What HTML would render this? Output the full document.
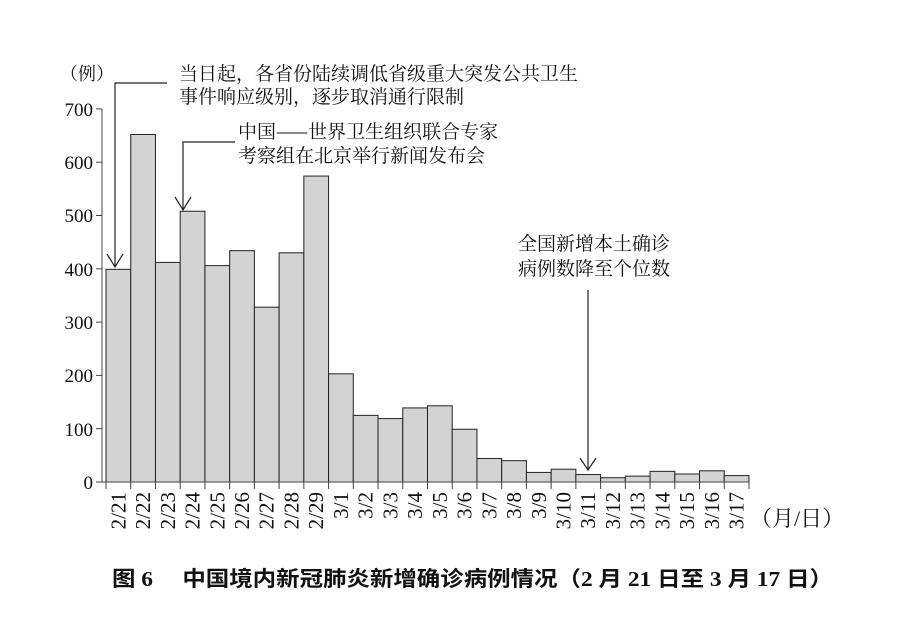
<!DOCTYPE html>
<html><head><meta charset="utf-8"><style>body{margin:0;background:#fff}svg{display:block}</style></head><body>
<svg width="900" height="631" xmlns="http://www.w3.org/2000/svg" font-family="'Liberation Serif','Noto Serif CJK SC',serif">
<g id="bars" fill="#d3d3d3" stroke="#222" stroke-width="1"></g>
<line x1="102" y1="109" x2="102" y2="482" stroke="#444"/>
<line x1="102" y1="482" x2="749" y2="482" stroke="#444"/>
<g id="ticks" stroke="#444"></g>
<g font-size="19" fill="#111" text-anchor="end">
<text x="93" y="116">700</text><text x="93" y="169">600</text><text x="93" y="222">500</text><text x="93" y="276">400</text><text x="93" y="329">300</text><text x="93" y="382">200</text><text x="93" y="436">100</text><text x="93" y="489">0</text>
</g>
<text x="60" y="80" font-size="18" fill="#111">（例）</text>
<g id="labels" font-size="21" fill="#111" text-anchor="end"></g>
<text x="750" y="526" font-size="22" fill="#111">（月/日）</text>
<g fill="none" stroke="#222" stroke-width="1.2">
<polyline points="167,83 115,83 115,266"/><polyline points="107,254 115,267 123,254"/>
<polyline points="235,142 183,142 183,209"/><polyline points="175,197 183,210 191,197"/>
<line x1="588" y1="290" x2="588" y2="470"/><polyline points="580,458 588,470 596,458"/>
</g>
<g font-size="19" fill="#111" font-family="'Noto Serif CJK SC',serif">
<text x="179" y="80">当日起，各省份陆续调低省级重大突发公共卫生</text>
<text x="179" y="103">事件响应级别，逐步取消通行限制</text>
<text x="238" y="138">中国——世界卫生组织联合专家</text>
<text x="238" y="162">考察组在北京举行新闻发布会</text>
<text x="518" y="250">全国新增本土确诊</text>
<text x="518" y="275">病例数降至个位数</text>
</g>
<text x="112" y="586" font-size="21" font-weight="bold" fill="#111" textLength="721" lengthAdjust="spacingAndGlyphs" font-family="'Liberation Serif','Noto Sans CJK SC',sans-serif">图 6　 中国境内新冠肺炎新增确诊病例情况（2 月 21 日至 3 月 17 日）</text>
<script>
var v=[399,652,412,508,406,434,328,430,574,203,125,119,139,143,99,44,40,18,24,14,8,11,20,15,21,12];
var lab=["2/21","2/22","2/23","2/24","2/25","2/26","2/27","2/28","2/29","3/1","3/2","3/3","3/4","3/5","3/6","3/7","3/8","3/9","3/10","3/11","3/12","3/13","3/14","3/15","3/16","3/17"];
var ns="http://www.w3.org/2000/svg",w=24.73,x0=106;
var B=document.getElementById("bars"),T=document.getElementById("ticks"),L=document.getElementById("labels");
for(var i=0;i<26;i++){var x=x0+i*w,h=v[i]*0.533;
var r=document.createElementNS(ns,"rect");r.setAttribute("x",x);r.setAttribute("y",482-h);r.setAttribute("width",w);r.setAttribute("height",h);B.appendChild(r);
var t=document.createElementNS(ns,"line");t.setAttribute("x1",x);t.setAttribute("x2",x);t.setAttribute("y1",482);t.setAttribute("y2",489);T.appendChild(t);
var tx=document.createElementNS(ns,"text"),cx=x+w/2+7;tx.setAttribute("x",cx);tx.setAttribute("y",492);tx.setAttribute("transform","rotate(-90 "+cx+" 492)");tx.textContent=lab[i];L.appendChild(tx);}
var t=document.createElementNS(ns,"line");t.setAttribute("x1",749);t.setAttribute("x2",749);t.setAttribute("y1",482);t.setAttribute("y2",489);T.appendChild(t);
for(var k=0;k<=7;k++){var y=482-k*53.3;var l=document.createElementNS(ns,"line");l.setAttribute("x1",96);l.setAttribute("x2",102);l.setAttribute("y1",y);l.setAttribute("y2",y);T.appendChild(l);}
</script>
</svg>
</body></html>
